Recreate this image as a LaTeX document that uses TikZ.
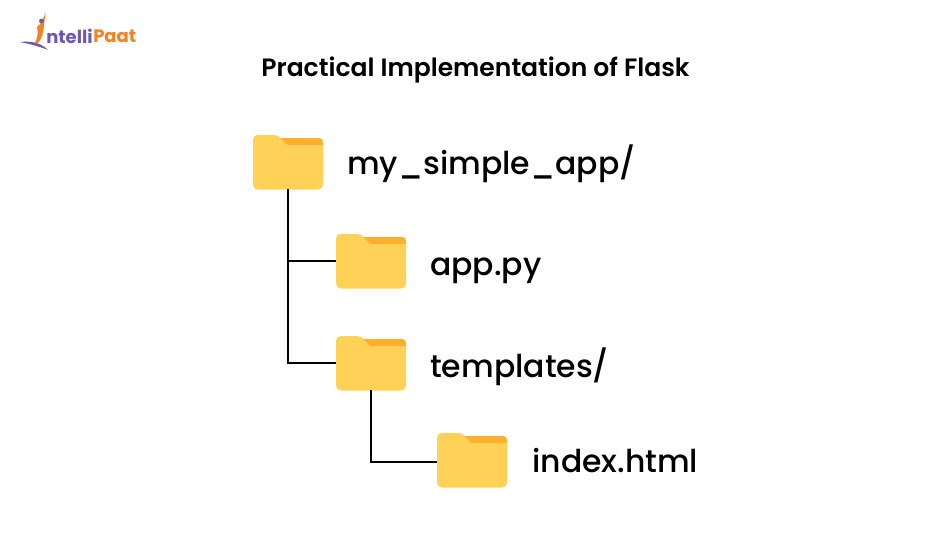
\documentclass[tikz,border=0pt]{standalone}
\usepackage{fontspec}
\setmainfont{Poppins}
\newfontfamily\medfont{Poppins Medium}
\newfontfamily\semifont{Poppins SemiBold}
\definecolor{folderbody}{HTML}{FFD257}
\definecolor{foldertab}{HTML}{FFAF2E}
\definecolor{logopurple}{HTML}{6A58B5}
\definecolor{logoorange}{HTML}{F58220}
\tikzset{
  x=0.75pt,y=-0.75pt,
  folderbox/.style={rectangle,minimum width=52.5pt,minimum height=40.5pt,inner sep=0pt,outer sep=0pt},
  label/.style={anchor=west,inner sep=0pt,font=\medfont\fontsize{23.6}{28}\selectfont,text=black},
  link/.style={draw=black,line width=1.5pt},
  branch/.style={draw=black,line width=1.2pt},
}
\newcommand{\folderat}[3]{%
  \node[folderbox] (#1) at (#2+35,#3+27) {};
  \begin{scope}[shift={(#2,#3)}]
    \fill[foldertab] (27,3) -- (66,3) .. controls (68.5,3) and (70,4.5) .. (70,7) -- (70,14) -- (29,14) -- cycle;
    \fill[folderbody] (0,5) .. controls (0,2) and (2,0) .. (5,0) -- (21,0) .. controls (24,0) and (26,1) .. (28,4) -- (32,8) .. controls (33,9.5) and (34,10) .. (36,10) -- (70,10) -- (70,49.5) .. controls (70,52.5) and (68,54.5) .. (65,54.5) -- (5,54.5) .. controls (2,54.5) and (0,52.5) .. (0,49.5) -- cycle;
  \end{scope}%
}
\begin{document}
\begin{tikzpicture}
\useasboundingbox (0,0) rectangle (950,546);
\fill[white] (0,0) rectangle (950,546);
% logo
\fill[logopurple] (20,42) .. controls (30,41) and (40,42) .. (48,50) .. controls (38,46) and (30,44) .. (20,42) -- cycle;
\fill[logoorange] (45.5,12) -- (44,26) .. controls (43,32) and (43,38) .. (37,44) -- (35,42.5) .. controls (38,38) and (38,32) .. (37,27) .. controls (38,26) and (42,24) .. (45.5,12) -- cycle;
\fill[logopurple] (41.5,21) circle (2.4);
\node[anchor=west,inner sep=0pt,text=logopurple] (brandA) at (46,36) {\fontsize{13.5}{16}\selectfont\bfseries ntelli};
\node[anchor=west,inner sep=0pt,text=logoorange] (brandB) at (brandA.east) {\fontsize{13.5}{16}\selectfont\bfseries Paat};
% title
\node[inner sep=0pt,font=\semifont\fontsize{18.8}{22}\selectfont,text=black] (title) at (475.5,70) {Practical Implementation of Flask};
% folders
\folderat{root}{253}{135}
\folderat{app}{336}{234}
\folderat{tmpl}{336}{336}
\folderat{index}{437}{433}
% connectors
\draw[link] (root.south) -- ++(0,174) -- (tmpl.west);
\draw[branch] (root.south |- app.west) -- (app.west);
\draw[link] (tmpl.south) -- ++(0,72) coordinate (elbow) -- (index.west |- elbow);
% labels
\node[label] (l1) at (347,164) {my\_simple\_app/};
\node[label] (l2) at (430,271) {app.py};
\node[label] (l3) at (430,367) {templates/};
\node[label] (l4) at (532,461) {index.html};
\end{tikzpicture}
\end{document}
